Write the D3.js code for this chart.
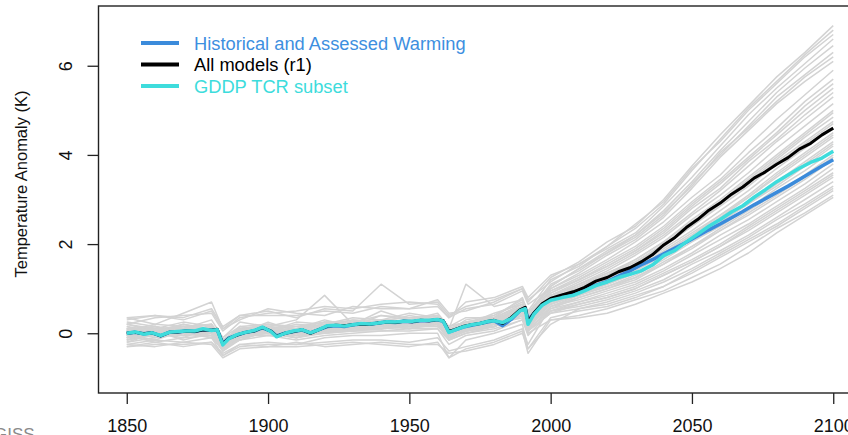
<!DOCTYPE html>
<html>
<head>
<meta charset="utf-8">
<script src="https://cdn.jsdelivr.net/npm/d3@7"></script>
<style>
  body { margin: 0; background: #fff; }
  svg { display: block; font-family: "Liberation Sans", Arial, sans-serif; }
</style>
</head>
<body>
<div id="viz"></div>
<script>
const width = 848;
const height = 435;
const plot = {left: 98.5, right: 861.5, top: 6, bottom: 393};

// x ticks and y ticks
const xTicks = [1850, 1900, 1950, 2000, 2050, 2100];
const yTicks = [0, 2, 4, 6];

// years of the three highlighted curves
const years = [1850,1853,1856,1859,1862,1865,1868,1871,1874,1877,
  1880,1882,1884,1886,1889,1892,1895,1898,1901,1903,
  1906,1909,1912,1915,1918,1921,1924,1927,1930,1933,
  1936,1939,1942,1945,1948,1951,1954,1957,1960,1962,
  1964,1966,1969,1972,1975,1978,1980,1983,1986,1989,
  1991,1992,1994,1997,
  2000,2004,2008,2012,2016,2020,2024,2028,2032,2036,2040,2044,2048,
  2052,2056,2060,2064,2068,2072,2076,2080,2084,2088,2092,2096,2100];

const assessed = [0.00,0.02,-0.01,0.01,-0.06,0.02,0.03,0.05,0.04,0.08,
  0.07,0.08,-0.23,-0.11,-0.04,0.02,0.05,0.12,0.05,-0.06,
  0.00,0.04,0.07,0.01,0.08,0.15,0.17,0.15,0.19,0.21,
  0.20,0.23,0.25,0.24,0.27,0.26,0.28,0.28,0.30,0.27,
  0.03,0.07,0.14,0.18,0.22,0.26,0.28,0.17,0.31,0.50,
  0.57,0.30,0.44,0.64,
  0.76,0.84,0.91,0.99,1.08,1.16,1.28,1.40,1.53,1.65,1.78,1.91,2.04,
  2.18,2.32,2.45,2.59,2.73,2.88,3.02,3.16,3.30,3.45,3.60,3.75,3.89];

const allModels = [0.00,0.02,-0.01,0.01,-0.06,0.02,0.03,0.05,0.04,0.08,
  0.07,0.09,-0.24,-0.12,-0.04,0.02,0.05,0.13,0.05,-0.07,
  0.00,0.04,0.08,0.00,0.08,0.16,0.18,0.17,0.19,0.21,
  0.20,0.23,0.25,0.24,0.27,0.26,0.29,0.28,0.31,0.28,
  0.04,0.08,0.15,0.19,0.22,0.27,0.29,0.22,0.35,0.52,
  0.58,0.25,0.45,0.66,
  0.78,0.86,0.93,1.03,1.17,1.25,1.38,1.47,1.60,1.76,1.98,2.15,2.37,
  2.55,2.76,2.92,3.12,3.28,3.48,3.62,3.79,3.94,4.13,4.26,4.45,4.60];

const gddpSubset = [0.00,0.03,-0.02,0.01,-0.05,0.02,0.04,0.05,0.05,0.10,
  0.06,0.08,-0.26,-0.13,-0.03,0.02,0.06,0.14,0.04,-0.08,
  0.00,0.05,0.08,0.01,0.08,0.17,0.18,0.16,0.19,0.22,
  0.21,0.23,0.26,0.25,0.27,0.27,0.29,0.29,0.31,0.27,
  0.02,0.07,0.14,0.19,0.22,0.27,0.28,0.24,0.33,0.50,
  0.55,0.20,0.42,0.63,
  0.74,0.80,0.85,0.95,1.07,1.15,1.25,1.32,1.40,1.53,1.74,1.86,2.05,
  2.22,2.40,2.55,2.72,2.86,3.05,3.22,3.40,3.55,3.70,3.83,3.93,4.08];

// years of the individual model runs (grey)
const modelYears = [1850,1860,1870,1880,1884,1890,1900,1910,1920,1930,1940,1950,1960,1964,1970,1980,1990,1992,
  2000,2010,2020,2030,2040,2050,2060,2070,2080,2090,2100];

const modelRuns = [
  [0.30,0.40,0.35,0.55,0.15,0.40,0.50,0.35,0.55,0.50,1.10,0.65,0.70,0.40,0.60,0.75,1.00,0.70, 1.25,1.60,2.05,2.40,3.00,3.75,4.45,5.10,5.75,6.30,6.90],
  [-0.10,0.05,0.20,0.10,-0.20,0.15,0.05,0.25,0.20,0.35,0.30,0.45,0.35,0.10,1.10,0.60,0.75,0.50, 1.20,1.50,1.95,2.35,2.90,3.65,4.35,5.05,5.65,6.25,6.80],
  [0.35,0.20,0.45,0.70,0.10,0.30,0.55,0.45,0.40,0.60,0.55,0.55,0.75,0.45,0.50,0.70,1.00,0.75, 1.15,1.55,1.90,2.25,2.85,3.50,4.20,4.90,5.50,6.05,6.60],
  [0.00,0.15,-0.05,0.20,-0.30,0.05,0.20,0.10,0.30,0.15,0.40,0.35,0.40,0.05,0.25,0.40,0.70,0.40, 1.05,1.45,1.85,2.20,2.75,3.40,4.10,4.75,5.40,5.95,6.45],
  [0.15,-0.05,0.10,0.30,-0.10,0.25,0.15,0.30,0.85,0.20,0.50,0.30,0.45,0.15,0.35,0.35,0.80,0.45, 1.10,1.40,1.80,2.15,2.65,3.35,4.00,4.65,5.30,5.80,6.30],
  [-0.05,0.10,0.25,0.15,-0.15,0.00,0.25,0.05,0.20,0.30,0.25,0.40,0.30,0.00,0.20,0.45,0.65,0.35, 1.00,1.35,1.75,2.10,2.60,3.25,3.95,4.55,5.15,5.65,6.10],
  [0.05,-0.10,0.10,0.05,-0.25,-0.05,0.10,0.00,0.10,0.25,0.20,0.15,0.35,0.05,0.15,0.30,0.60,0.30, 0.95,1.25,1.60,1.95,2.40,2.95,3.45,4.05,4.60,5.20,5.70],
  [-0.20,0.00,-0.10,0.15,-0.35,-0.10,0.05,0.10,0.05,0.10,0.30,0.20,0.25,-0.05,0.10,0.25,0.50,0.20, 0.90,1.20,1.50,1.85,2.30,2.85,3.35,3.90,4.45,5.00,5.50],
  [0.25,0.15,0.05,0.00,-0.20,0.10,0.00,-0.05,0.25,0.20,0.15,0.30,0.25,0.10,0.25,0.20,0.55,0.25, 0.85,1.15,1.45,1.80,2.20,2.70,3.20,3.75,4.30,4.80,5.30],
  [0.05,0.20,0.15,0.10,-0.15,0.05,0.15,0.05,0.00,0.15,0.25,0.10,0.30,0.00,0.05,0.30,0.50,0.15, 0.80,1.10,1.40,1.75,2.15,2.65,3.10,3.60,4.15,4.65,5.15],
  [-0.15,-0.05,0.00,0.10,-0.30,-0.15,0.05,-0.10,0.10,0.05,0.10,0.25,0.20,-0.15,0.10,0.15,0.45,0.10, 0.75,1.05,1.35,1.65,2.05,2.55,3.00,3.50,4.00,4.50,5.00],
  [0.10,0.00,0.20,0.05,-0.20,0.05,0.10,0.15,0.15,0.25,0.20,0.20,0.35,0.10,0.20,0.30,0.55,0.30, 0.85,1.10,1.35,1.60,2.00,2.45,2.90,3.40,3.90,4.40,4.85],
  [0.00,0.05,0.10,0.20,-0.25,0.00,0.05,0.00,0.15,0.20,0.25,0.30,0.25,0.05,0.15,0.25,0.60,0.25, 0.80,1.00,1.30,1.55,1.95,2.40,2.85,3.30,3.80,4.25,4.70],
  [-0.10,0.10,0.00,-0.05,-0.40,-0.10,0.00,-0.05,0.05,0.15,0.15,0.20,0.20,-0.10,0.05,0.20,0.45,0.15, 0.70,0.95,1.25,1.50,1.90,2.30,2.75,3.20,3.70,4.15,4.60],
  [0.15,0.05,-0.05,0.10,-0.20,0.10,0.05,0.10,0.20,0.10,0.30,0.15,0.30,0.05,0.20,0.35,0.50,0.20, 0.75,0.95,1.20,1.45,1.85,2.25,2.65,3.10,3.60,4.05,4.50],
  [-0.05,-0.15,0.05,0.00,-0.30,-0.05,0.10,0.05,0.00,0.25,0.20,0.25,0.25,0.00,0.10,0.20,0.55,0.20, 0.65,0.90,1.15,1.45,1.80,2.20,2.60,3.05,3.50,3.95,4.40],
  [0.05,0.10,0.15,0.00,-0.20,0.15,0.05,0.00,0.10,0.15,0.30,0.20,0.30,0.10,0.15,0.25,0.50,0.20, 0.70,0.90,1.15,1.40,1.75,2.15,2.55,2.95,3.40,3.85,4.30],
  [-0.30,-0.25,-0.25,-0.20,-0.50,-0.30,-0.25,-0.25,-0.20,-0.15,-0.15,-0.20,-0.10,-0.40,-0.30,-0.15,0.10,-0.25, 0.60,0.85,1.10,1.35,1.70,2.10,2.50,2.90,3.30,3.75,4.20],
  [0.00,-0.05,0.10,0.05,-0.25,0.00,0.00,0.05,0.10,0.10,0.20,0.25,0.25,0.00,0.15,0.25,0.50,0.15, 0.65,0.85,1.05,1.30,1.65,2.05,2.40,2.80,3.25,3.65,4.10],
  [0.10,0.00,0.00,0.15,-0.15,0.05,0.15,0.00,0.05,0.20,0.15,0.20,0.35,0.05,0.20,0.30,0.55,0.25, 0.70,0.85,1.05,1.25,1.60,1.95,2.35,2.75,3.15,3.55,4.00],
  [-0.15,0.05,0.05,-0.10,-0.35,-0.05,0.00,-0.10,0.05,0.10,0.10,0.15,0.20,-0.10,0.05,0.15,0.40,0.10, 0.55,0.80,1.00,1.20,1.55,1.90,2.30,2.65,3.05,3.45,3.90],
  [0.05,0.10,0.05,0.10,-0.25,0.00,0.05,0.05,0.10,0.15,0.20,0.20,0.25,0.00,0.10,0.20,0.45,0.15, 0.60,0.75,0.95,1.15,1.45,1.80,2.20,2.55,2.95,3.35,3.80],
  [-0.05,-0.20,-0.10,-0.05,-0.40,-0.15,-0.05,-0.15,-0.05,0.00,0.05,0.05,0.10,-0.25,-0.05,0.05,0.30,-0.05, 0.50,0.70,0.90,1.10,1.40,1.75,2.10,2.45,2.85,3.25,3.70],
  [0.20,0.05,0.15,0.05,-0.15,0.10,0.15,0.10,0.15,0.20,0.20,0.15,0.30,0.05,0.20,0.25,0.50,0.20, 0.55,0.70,0.85,1.05,1.35,1.65,2.00,2.40,2.80,3.20,3.60],
  [-0.10,0.00,-0.05,0.05,-0.30,-0.10,0.05,-0.05,0.00,0.10,0.15,0.10,0.20,-0.05,0.05,0.15,0.40,0.05, 0.45,0.65,0.80,1.00,1.30,1.60,1.95,2.30,2.70,3.10,3.50],
  [0.00,0.15,0.00,0.00,-0.20,0.05,0.00,0.10,0.05,0.15,0.10,0.20,0.15,0.05,0.10,0.20,0.40,0.10, 0.50,0.60,0.75,0.95,1.20,1.55,1.85,2.20,2.60,3.00,3.40],
  [-0.25,-0.15,-0.20,-0.10,-0.50,-0.25,-0.20,-0.25,-0.10,-0.05,-0.05,0.00,0.00,-0.55,-0.15,0.00,0.20,-0.35, 0.20,0.55,0.70,0.90,1.15,1.45,1.80,2.15,2.55,2.90,3.30],
  [0.10,-0.05,0.05,0.15,-0.20,0.00,0.10,0.00,0.10,0.05,0.20,0.15,0.20,0.00,0.10,0.20,0.35,0.05, 0.45,0.55,0.65,0.85,1.05,1.35,1.70,2.05,2.40,2.80,3.20],
  [-0.25,-0.30,-0.20,-0.25,-0.55,-0.35,-0.30,-0.30,-0.25,-0.20,-0.25,-0.30,-0.20,-0.55,-0.35,-0.20,0.05,-0.45, 0.30,0.40,0.55,0.75,0.95,1.25,1.55,1.95,2.35,2.70,3.10],
  [0.05,0.00,-0.05,0.00,-0.30,-0.05,0.00,-0.10,0.00,0.05,0.05,0.10,0.10,-0.15,0.00,0.10,0.30,0.00, 0.30,0.35,0.45,0.65,0.90,1.15,1.45,1.80,2.25,2.65,3.05],
  [0.20,0.35,0.40,0.45,0.05,0.35,0.45,0.50,0.60,0.55,0.65,0.70,0.65,0.35,0.70,0.80,1.05,0.80, 1.30,1.55,1.95,2.45,2.95,3.70,4.30,5.00,5.60,6.20,6.70],
  [-0.15,0.00,0.05,0.10,-0.25,0.10,0.20,0.15,0.25,0.25,0.40,0.30,0.40,0.05,0.30,0.40,0.75,0.45, 1.05,1.45,1.80,2.20,2.70,3.30,4.05,4.60,5.20,5.75,6.20],
  [0.35,0.40,0.30,0.50,0.10,0.40,0.40,0.40,0.50,0.45,0.60,0.55,0.60,0.35,0.55,0.65,0.95,0.65, 1.00,1.30,1.65,2.05,2.50,3.05,3.55,4.20,4.80,5.35,5.90],
  [-0.05,0.05,-0.15,0.00,-0.30,0.00,0.00,0.05,0.10,0.05,0.15,0.20,0.20,-0.10,0.05,0.15,0.50,0.20, 0.90,1.20,1.55,1.90,2.35,2.90,3.40,3.95,4.50,5.10,5.60],
  [0.10,-0.05,0.15,0.20,-0.15,0.10,0.05,0.20,0.15,0.30,0.25,0.25,0.40,0.15,0.25,0.35,0.65,0.35, 0.95,1.20,1.50,1.85,2.25,2.80,3.25,3.85,4.35,4.90,5.40],
  [-0.20,-0.10,0.00,-0.10,-0.35,-0.05,-0.05,0.00,0.05,0.10,0.10,0.15,0.15,-0.10,0.05,0.20,0.45,0.10, 0.75,1.05,1.30,1.65,2.05,2.50,2.95,3.45,3.95,4.45,4.95],
  [0.20,0.10,0.10,0.20,-0.10,0.15,0.20,0.10,0.25,0.20,0.30,0.35,0.30,0.15,0.25,0.35,0.60,0.30, 0.85,1.05,1.30,1.60,1.95,2.40,2.90,3.35,3.85,4.30,4.75],
  [-0.05,0.00,0.10,0.05,-0.30,0.05,0.00,0.10,0.05,0.20,0.20,0.20,0.25,-0.05,0.15,0.25,0.50,0.20, 0.70,0.90,1.20,1.45,1.80,2.20,2.65,3.05,3.55,4.00,4.45],
  [0.10,0.15,0.00,0.10,-0.20,0.00,0.10,-0.05,0.15,0.15,0.25,0.20,0.30,0.05,0.15,0.30,0.55,0.25, 0.65,0.90,1.10,1.35,1.70,2.10,2.50,2.90,3.35,3.80,4.25],
  [-0.10,-0.05,0.05,0.00,-0.35,-0.15,0.05,0.00,0.00,0.05,0.15,0.15,0.20,-0.15,0.00,0.15,0.40,0.05, 0.60,0.80,1.00,1.25,1.55,1.95,2.30,2.70,3.10,3.50,3.95],
  [0.00,0.05,0.00,0.05,-0.25,0.00,0.05,0.00,0.05,0.10,0.10,0.15,0.15,0.00,0.10,0.15,0.40,0.10, 0.50,0.65,0.80,1.00,1.30,1.60,1.95,2.35,2.75,3.15,3.55],
  [-0.30,-0.20,-0.30,-0.20,-0.45,-0.25,-0.30,-0.20,-0.30,-0.25,-0.20,-0.25,-0.25,-0.45,-0.40,-0.25,0.00,-0.35, 0.35,0.50,0.60,0.80,1.05,1.40,1.75,2.10,2.45,2.85,3.25]
];

const legendItems = [
  {label: 'Historical and Assessed Warming', color: '#3b8bdb', text: '#3d8fdf'},
  {label: 'All models (r1)', color: '#000000', text: '#000000'},
  {label: 'GDDP TCR subset', color: '#3edcdc', text: '#3ddcdc'}
];

const svg = d3.select('#viz')
  .append('svg')
  .attr('width', width)
  .attr('height', height)
  .attr('viewBox', `0 0 ${width} ${height}`);

const xScale = d3.scaleLinear()
  .domain([1840, 2110])
  .range([plot.left, plot.right]);

const yScale = d3.scaleLinear()
  .domain([-1.34, 7.34])
  .range([plot.bottom, plot.top]);

const line = d3.line()
  .x(d => xScale(d[0]))
  .y(d => yScale(d[1]));

// grey spaghetti
svg.append('g')
  .selectAll('path')
  .data(modelRuns)
  .join('path')
  .attr('d', run => line(run.map((v, i) => [modelYears[i], v])))
  .attr('fill', 'none')
  .attr('stroke', '#d3d3d3')
  .attr('stroke-width', 1.5)
  .attr('stroke-linejoin', 'round');

const curves = [
  {values: assessed, color: '#3b8bdb', width: 3.5},
  {values: allModels, color: '#000000', width: 3},
  {values: gddpSubset, color: '#3edcdc', width: 3.5}
];

svg.append('g')
  .selectAll('path')
  .data(curves)
  .join('path')
  .attr('d', c => line(c.values.map((v, i) => [years[i], v])))
  .attr('fill', 'none')
  .attr('stroke', c => c.color)
  .attr('stroke-width', c => c.width)
  .attr('stroke-linejoin', 'round');

// frame
svg.append('rect')
  .attr('x', plot.left)
  .attr('y', plot.top)
  .attr('width', plot.right - plot.left)
  .attr('height', plot.bottom - plot.top)
  .attr('fill', 'none')
  .attr('stroke', '#222')
  .attr('stroke-width', 1.4);

// axes
const xAxis = svg.append('g')
  .attr('transform', `translate(0,${plot.bottom})`)
  .call(d3.axisBottom(xScale).tickValues(xTicks).tickFormat(d3.format('d')).tickSize(11).tickPadding(15));

const yAxis = svg.append('g')
  .attr('transform', `translate(${plot.left},0)`)
  .call(d3.axisLeft(yScale).tickValues(yTicks).tickSize(11));

[xAxis, yAxis].forEach(g => {
  g.select('.domain').remove();
  g.selectAll('line').attr('stroke', '#222').attr('stroke-width', 1.3);
  g.selectAll('text')
    .attr('fill', '#111')
    .style('font-family', '"Liberation Sans", Arial, sans-serif')
    .style('font-size', '18px');
});

yAxis.selectAll('text')
  .attr('x', null)
  .attr('dy', null)
  .attr('text-anchor', 'middle')
  .attr('transform', 'translate(-27,0) rotate(-90)');

svg.append('text')
  .attr('transform', 'translate(27,184) rotate(-90)')
  .attr('text-anchor', 'middle')
  .attr('fill', '#111')
  .style('font-size', '16.5px')
  .text('Temperature Anomaly (K)');

// legend
const legend = svg.append('g')
  .selectAll('g')
  .data(legendItems)
  .join('g')
  .attr('transform', (d, i) => `translate(0,${43 + i * 21.5})`);

legend.append('line')
  .attr('x1', 141)
  .attr('x2', 179)
  .attr('stroke', d => d.color)
  .attr('stroke-width', 4);

legend.append('text')
  .attr('x', 194)
  .attr('y', 6.5)
  .attr('fill', d => d.text)
  .style('font-size', '18.3px')
  .text(d => d.label);

svg.append('text')
  .attr('x', -6)
  .attr('y', 440)
  .attr('fill', '#8a8a8a')
  .style('font-size', '17px')
  .text('GISS');
</script>
</body>
</html>
